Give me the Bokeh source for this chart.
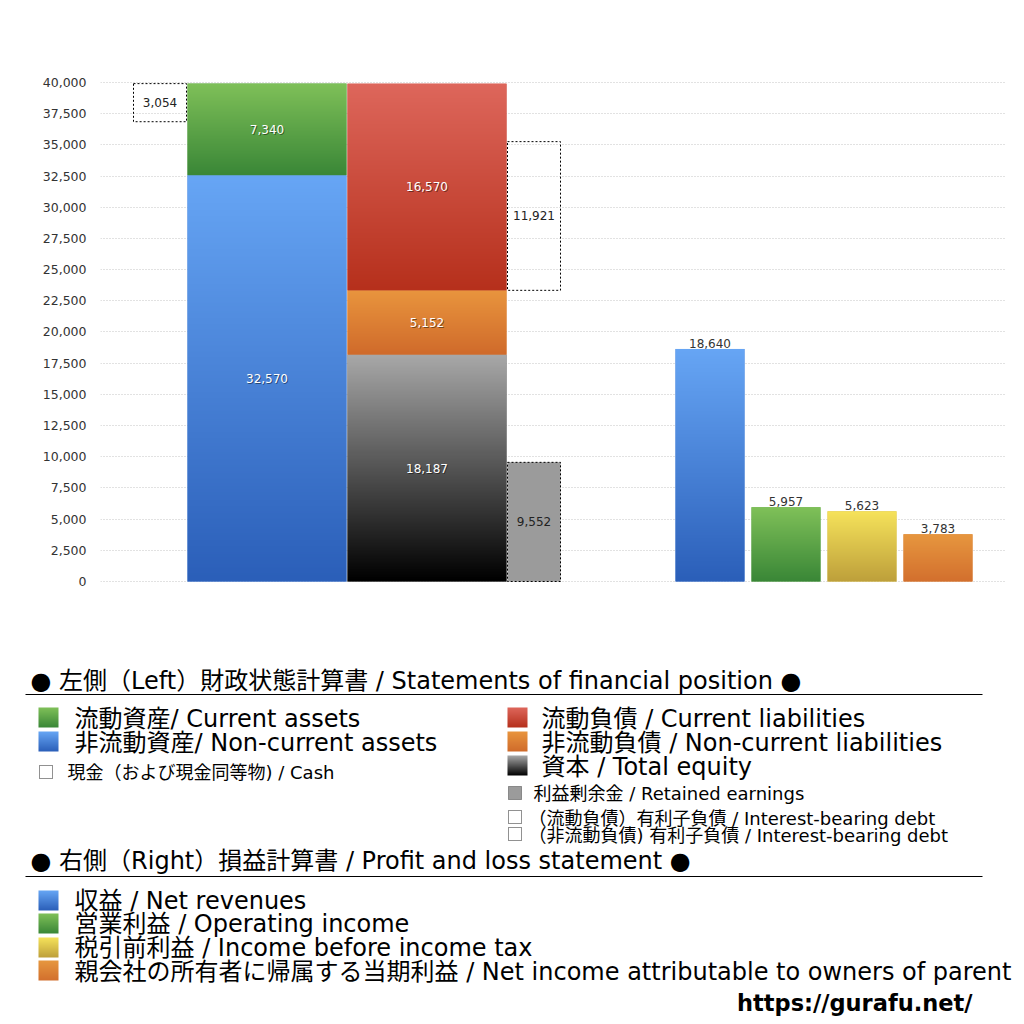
import numpy as np
from bokeh.plotting import figure
from bokeh.models import Range1d, FixedTicker, NumeralTickFormatter
from bokeh.core.properties import value
from bokeh.embed import file_html
from bokeh.resources import INLINE

# ---------------- data ----------------
non_current_assets = 32570
current_assets = 7340
cash = 3054
total_equity = 18187
non_current_liabilities = 5152
current_liabilities = 16570
retained_earnings = 9552
interest_bearing_debt_current = 11921
pl_categories = ["収益", "営業利益", "税引前利益", "当期利益"]
pl_values = [18640, 5957, 5623, 3783]
y_ticks = list(range(0, 40001, 2500))

heading_left = "● 左側（Left）財政状態計算書 / Statements of financial position ●"
heading_right = "● 右側（Right）損益計算書 / Profit and loss statement ●"
legend_left_big = ["流動資産/ Current assets", "非流動資産/ Non-current assets"]
legend_right_big = ["流動負債 /  Current liabilities", "非流動負債 / Non-current liabilities", "資本 / Total equity"]
legend_cash = "現金（および現金同等物) / Cash"
legend_retained = "利益剰余金 / Retained earnings"
legend_debt = ["（流動負債）有利子負債 / Interest-bearing debt", "（非流動負債) 有利子負債 / Interest-bearing debt"]
legend_pl = ["収益 / Net revenues", "営業利益 / Operating income", "税引前利益 / Income before income tax",
             "親会社の所有者に帰属する当期利益 / Net income attributable to owners of parent"]
site = "https://gurafu.net/"

# ---------------- styles ----------------
G_BLUE = ("#67a6f5", "#2b5fb9")
G_GREEN = ("#80c159", "#3a8737")
G_RED = ("#de675c", "#b6301c")
G_ORANGE = ("#e9953e", "#d06b2b")
G_BLACK = ("#a9a9a9", "#000000")
G_YELLOW = ("#f6e35b", "#bea03b")
G_ORANGE2 = ("#e7973f", "#d3702e")
GRAY = "#9b9b9b"
FONT = value("DejaVu Sans, Noto Sans CJK JP")
NUMFONT = value("DejaVu Sans")


def hex2rgb(h):
    return np.array([int(h[i:i + 2], 16) for i in (1, 3, 5)], dtype=float)


def grad_img(top, bottom, n=256):
    t = np.linspace(0, 1, n)[:, None]
    a, b = hex2rgb(bottom), hex2rgb(top)
    rgb = a + (b - a) * t
    img = np.empty((n, 1), dtype=np.uint32)
    v = img.view(dtype=np.uint8).reshape((n, 1, 4))
    v[:, 0, 0] = rgb[:, 0]
    v[:, 0, 1] = rgb[:, 1]
    v[:, 0, 2] = rgb[:, 2]
    v[:, 0, 3] = 255
    return img


def mid(g):
    c = (hex2rgb(g[0]) + hex2rgb(g[1])) / 2
    return "#%02x%02x%02x" % tuple(int(x) for x in c)


# ---------------- figure ----------------
W, H = 1016, 1016
FR_L, FR_R, FR_T, FR_B = 100, 1005, 68, 598
p = figure(width=W, height=H, output_backend="svg", toolbar_location=None,
           x_range=Range1d(FR_L, FR_R), y_range=Range1d(-1363, 41122),
           x_axis_location=None, min_border_left=FR_L, min_border_right=W - FR_R,
           min_border_top=FR_T, min_border_bottom=H - FR_B)
p.extra_y_ranges = {"px": Range1d(-FR_B, -FR_T)}   # y = -(pixel row) for the legend panel
p.outline_line_color = None
p.xgrid.grid_line_color = None
p.ygrid.grid_line_color = "#c4c4c4"
p.ygrid.grid_line_dash = "1 2"
p.yaxis.ticker = FixedTicker(ticks=y_ticks)
p.yaxis.formatter = NumeralTickFormatter(format="0,0")
p.yaxis.axis_line_color = None
p.yaxis.major_tick_line_color = None
p.yaxis.minor_tick_line_color = None
p.yaxis.major_label_standoff = 8
p.yaxis.major_label_text_font = "DejaVu Sans"
p.yaxis.major_label_text_font_size = "12.5px"
p.yaxis.major_label_text_color = "#333333"

# layout positions (x in pixel-like units)
X_CASH = (133, 186)
X_ASSETS = (187, 346)
X_LIAB = (347, 506)
X_SIDE = (507, 560)
PL_X0, PL_W, PL_STEP = 675, 69, 76

total_assets = non_current_assets + current_assets
segs = [
    (X_ASSETS, 0, non_current_assets, G_BLUE),
    (X_ASSETS, non_current_assets, total_assets, G_GREEN),
    (X_LIAB, 0, total_equity, G_BLACK),
    (X_LIAB, total_equity, total_equity + non_current_liabilities, G_ORANGE),
    (X_LIAB, total_equity + non_current_liabilities,
     total_equity + non_current_liabilities + current_liabilities, G_RED),
]
for i, v in enumerate(pl_values):
    g = [G_BLUE, G_GREEN, G_YELLOW, G_ORANGE2][i]
    x0 = PL_X0 + i * PL_STEP
    segs.append(((x0, x0 + PL_W), 0, v, g))

p.quad(left=[s[0][0] for s in segs], right=[s[0][1] for s in segs],
       bottom=[s[1] for s in segs], top=[s[2] for s in segs],
       fill_color=[mid(s[3]) for s in segs], line_color=None)
p.image_rgba(image=[grad_img(*s[3]) for s in segs],
             x=[s[0][0] for s in segs], y=[s[1] for s in segs],
             dw=[s[0][1] - s[0][0] for s in segs], dh=[s[2] - s[1] for s in segs])

# dotted boxes
p.quad(left=[X_SIDE[0]], right=[X_SIDE[1]], bottom=[0], top=[retained_earnings],
       fill_color=GRAY, line_color="black", line_dash="2 2", line_width=1)
debt_base = total_equity + non_current_liabilities
p.quad(left=[X_CASH[0], X_SIDE[0]], right=[X_CASH[1], X_SIDE[1]],
       bottom=[total_assets - cash, debt_base],
       top=[total_assets, debt_base + interest_bearing_debt_current],
       fill_color=None, line_color="black", line_dash="2 2", line_width=1)

# labels inside stacked bars (white with soft shadow)
in_x = [(s[0][0] + s[0][1]) / 2 for s in segs[:5]]
in_y = [(s[1] + s[2]) / 2 for s in segs[:5]]
in_t = ["{:,}".format(s[2] - s[1]) for s in segs[:5]]
p.text(x=in_x, y=in_y, text=in_t, text_color="black", text_alpha=0.45,
       text_align="center", text_baseline="middle", text_font=NUMFONT,
       text_font_size="12px", x_offset=1, y_offset=1)
p.text(x=in_x, y=in_y, text=in_t, text_color="white",
       text_align="center", text_baseline="middle", text_font=NUMFONT,
       text_font_size="12px")

# labels in dotted boxes
box_x = [(X_CASH[0] + X_CASH[1]) / 2, (X_SIDE[0] + X_SIDE[1]) / 2, (X_SIDE[0] + X_SIDE[1]) / 2]
box_y = [total_assets - cash / 2, debt_base + interest_bearing_debt_current / 2, retained_earnings / 2]
box_t = ["{:,}".format(cash), "{:,}".format(interest_bearing_debt_current), "{:,}".format(retained_earnings)]
p.text(x=box_x, y=box_y, text=box_t, text_color="#222222", text_align="center",
       text_baseline="middle", text_font=NUMFONT, text_font_size="12px")

# labels above P&L bars
pl_x = [PL_X0 + i * PL_STEP + PL_W / 2 for i in range(len(pl_values))]
p.text(x=pl_x, y=pl_values, text=["{:,}".format(v) for v in pl_values], text_color="#333333",
       text_align="center", text_baseline="bottom", text_font=NUMFONT,
       text_font_size="12px", y_offset=-1)

# ---------------- legend panel (below the plot frame, y = -pixel row) ----------------
LG = dict(y_range_name="px", level="overlay")
BIG = "24px"
SMALL = "18px"

q = p
q.text(x=[30, 30], y=[-680, -860], text=[heading_left, heading_right], text_font=FONT,
       text_font_size=BIG, text_baseline="middle", text_color="black", **LG)
q.segment(x0=[25, 25], x1=[982, 982], y0=[-694, -876], y1=[-694, -876],
          line_color="black", line_width=1, **LG)

sw = [
    (38, 707, G_GREEN), (38, 731, G_BLUE),
    (507, 707, G_RED), (507, 731, G_ORANGE), (507, 755, G_BLACK),
    (38, 890, G_BLUE), (38, 913, G_GREEN), (38, 937, G_YELLOW), (38, 960, G_ORANGE2),
]
q.image_rgba(image=[grad_img(*s[2]) for s in sw], x=[s[0] for s in sw], y=[-(s[1] + 20) for s in sw],
             dw=[20] * len(sw), dh=[20] * len(sw), **LG)

big_x = [74, 74, 541, 541, 541, 74, 74, 74, 74]
big_y = [-718, -742, -718, -742, -766, -900, -923, -947, -971]
q.text(x=big_x, y=big_y, text=legend_left_big + legend_right_big + legend_pl, text_font=FONT,
       text_font_size=BIG, text_baseline="middle", text_color="black", **LG)

q.quad(left=[508], right=[521], top=[-786], bottom=[-799], fill_color=GRAY,
       line_color="#444444", line_dash="1 1", line_width=1, **LG)
q.quad(left=[39, 508, 508], right=[52, 521, 521], top=[-765, -810, -827], bottom=[-778, -823, -840],
       fill_color=None, line_color="#222222", line_dash="1 1", line_width=1, **LG)
q.text(x=[67, 533, 528, 528], y=[-772, -793, -818, -835],
       text=[legend_cash, legend_retained] + legend_debt, text_font=FONT,
       text_font_size=SMALL, text_baseline="middle", text_color="black", **LG)

q.text(x=[972], y=[-1002], text=[site], text_font=NUMFONT, text_font_size="22.5px",
       text_font_style="bold", text_align="right", text_baseline="middle", text_color="black", **LG)

open("out.html", "w").write(file_html(p, INLINE))
